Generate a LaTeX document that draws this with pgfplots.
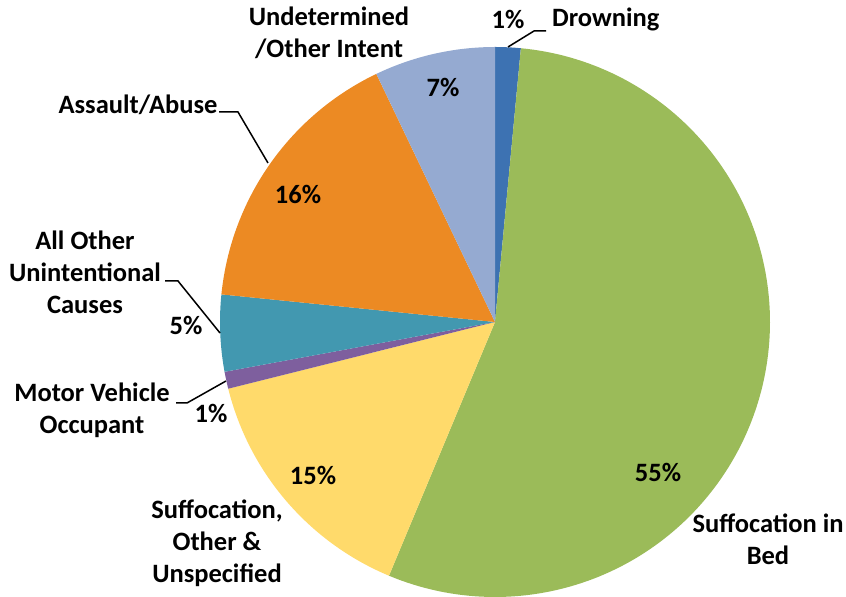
\documentclass[border=0pt]{standalone}
\usepackage{pgfplots}
\pgfplotsset{compat=1.18}
\usepackage{fontspec}
\setmainfont{Carlito}
\definecolor{cDrown}{HTML}{3D72B2}
\definecolor{cBed}{HTML}{9BBB59}
\definecolor{cSuf}{HTML}{FFDA6B}
\definecolor{cMVO}{HTML}{7E5F9E}
\definecolor{cOth}{HTML}{4298B0}
\definecolor{cAss}{HTML}{EC8A23}
\definecolor{cUnd}{HTML}{95AAD1}
\tikzset{lbl/.style={font=\bfseries\fontsize{26.5bp}{32bp}\selectfont, align=center, inner sep=0pt}}
\begin{document}
\begin{tikzpicture}
\begin{axis}[scale only axis, x=1bp, y=1bp, xmin=0, xmax=846, ymin=0, ymax=596,
  hide axis, clip=false]
\path (axis cs:0,0) rectangle (axis cs:846,596);
% wedges: domain = cumulative percentage, clockwise from 12 o'clock
\addplot[fill=cDrown, draw=none, domain=0:1.5, samples=10, variable=\t] ({495+275*cos(90-3.6*t)},{274+275*sin(90-3.6*t)}) -- (axis cs:495,274) -- cycle;
\addplot[fill=cBed, draw=none, domain=1.5:56.3, samples=150, variable=\t] ({495+275*cos(90-3.6*t)},{274+275*sin(90-3.6*t)}) -- (axis cs:495,274) -- cycle;
\addplot[fill=cSuf, draw=none, domain=56.3:71.1, samples=50, variable=\t] ({495+275*cos(90-3.6*t)},{274+275*sin(90-3.6*t)}) -- (axis cs:495,274) -- cycle;
\addplot[fill=cMVO, draw=none, domain=71.1:72.1, samples=10, variable=\t] ({495+275*cos(90-3.6*t)},{274+275*sin(90-3.6*t)}) -- (axis cs:495,274) -- cycle;
\addplot[fill=cOth, draw=none, domain=72.1:76.6, samples=20, variable=\t] ({495+275*cos(90-3.6*t)},{274+275*sin(90-3.6*t)}) -- (axis cs:495,274) -- cycle;
\addplot[fill=cAss, draw=none, domain=76.6:92.9, samples=50, variable=\t] ({495+275*cos(90-3.6*t)},{274+275*sin(90-3.6*t)}) -- (axis cs:495,274) -- cycle;
\addplot[fill=cUnd, draw=none, domain=92.9:100, samples=30, variable=\t] ({495+275*cos(90-3.6*t)},{274+275*sin(90-3.6*t)}) -- (axis cs:495,274) -- cycle;
% leader lines
\draw[line width=1.5bp] (axis cs:508,549) -- (axis cs:534,565) -- (axis cs:546,565);
\draw[line width=1.5bp] (axis cs:219,484) -- (axis cs:238,484) -- (axis cs:268,433);
\draw[line width=1.5bp] (axis cs:165,315) -- (axis cs:178,315) -- (axis cs:220,263);
\draw[line width=1.5bp] (axis cs:176,193) -- (axis cs:187,193) -- (axis cs:226,215);
% labels
\node[lbl] at (axis cs:329,563) {Undetermined\\/Other Intent};
\node[lbl] at (axis cs:443,509) {7\%};
\node[lbl] at (axis cs:508,577) {1\%};
\node[lbl,anchor=west] at (axis cs:552,577) {Drowning};
\node[lbl] at (axis cs:138,491) {Assault/Abuse};
\node[lbl] at (axis cs:298,402) {16\%};
\node[lbl] at (axis cs:85,324) {All Other\\Unintentional\\Causes};
\node[lbl] at (axis cs:186,271) {5\%};
\node[lbl] at (axis cs:92,186) {Motor Vehicle\\Occupant};
\node[lbl] at (axis cs:211,183) {1\%};
\node[lbl] at (axis cs:313,121) {15\%};
\node[lbl] at (axis cs:217,53) {Suffocation,\\Other \&\\Unspecified};
\node[lbl] at (axis cs:658,124) {55\%};
\node[lbl] at (axis cs:768,57) {Suffocation in\\Bed};
\end{axis}
\end{tikzpicture}
\end{document}
